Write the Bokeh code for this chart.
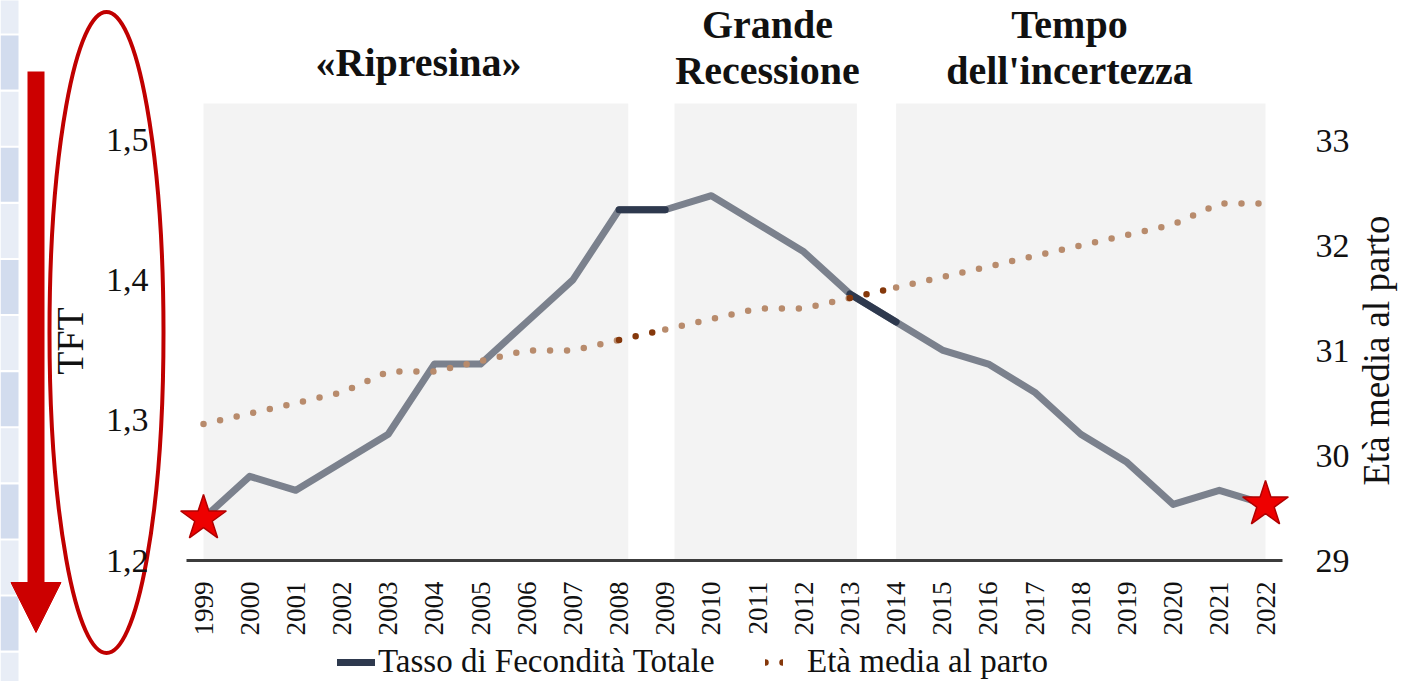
import math
from bokeh.plotting import figure
from bokeh.models import (Range1d, LinearAxis, FixedTicker, Label, Legend, LegendItem,
                          Arrow, NormalHead)
from bokeh.embed import file_html
from bokeh.resources import INLINE

# ---------------- data ----------------
years = list(range(1999, 2023))
tft = [1.23, 1.26, 1.25, 1.27, 1.29, 1.34, 1.34, 1.37, 1.40, 1.45, 1.45, 1.46,
       1.44, 1.42, 1.39, 1.37, 1.35, 1.34, 1.32, 1.29, 1.27, 1.24, 1.25, 1.24]
age = [30.3, 30.4, 30.5, 30.6, 30.8, 30.8, 30.9, 31.0, 31.0, 31.1, 31.2, 31.3,
       31.4, 31.4, 31.5, 31.6, 31.7, 31.8, 31.9, 32.0, 32.1, 32.2, 32.4, 32.4]
highlight_years = [2008, 2013]          # segment year -> year+1 drawn darker
tft_ticks = [1.2, 1.3, 1.4, 1.5]
tft_tick_labels = ["1,2", "1,3", "1,4", "1,5"]
age_ticks = [29, 30, 31, 32, 33]
period_start = [1999.0, 2009.2, 2014.0]
period_end = [2008.2, 2013.15, 2022.0]
period_titles = [["«Ripresina»"], ["Grande", "Recessione"], ["Tempo", "dell'incertezza"]]
series_names = ["Tasso di Fecondità Totale", "Età media al parto"]
y_left_label = "TFT"
y_right_label = "Età media al parto"

# ---------------- geometry helpers (canvas px -> data) ----------------
X0PX, XSTEP = 203.0, 46.174
Y0PX, YSTEP = 560.0, 1403.0
AGE_STEP = 105.0
W, H = 1400, 681


def px2x(px):
    return 1999 + (px - X0PX) / XSTEP


def px2y(py):
    return 1.2 + (Y0PX - py) / YSTEP


FONT = "Liberation Serif"
TXT = "#111111"
GRAY = "#7b818d"
DARK = "#2e394e"
BROWN = "#b88b6c"
DBROWN = "#85380b"

p = figure(width=W, height=H, output_backend="svg", toolbar_location=None,
           x_range=Range1d(px2x(0), px2x(W)),
           y_range=Range1d(px2y(H), px2y(0)),
           x_axis_type=None, y_axis_type=None,
           min_border=0, min_border_left=0, min_border_right=0,
           min_border_top=0, min_border_bottom=0,
           outline_line_color=None, background_fill_color="white",
           border_fill_color="white")
p.extra_y_ranges = {"age": Range1d(29 + (Y0PX - H) / AGE_STEP,
                                   29 + Y0PX / AGE_STEP)}

# left decorative strip
cells_top, cells_bot, cells_col = [], [], []
for j in range(13):
    top = -21 + 56.1 * j
    cells_top.append(px2y(top))
    cells_bot.append(px2y(top + 54))
    cells_col.append("#e8edf6" if j % 2 == 0 else "#d2dcee")
p.quad(left=px2x(0), right=px2x(18), top=cells_top, bottom=cells_bot,
       fill_color=cells_col, line_color=None)

# period bands
p.quad(left=period_start, right=period_end, top=px2y(103), bottom=tft_ticks[0],
       fill_color="#f3f3f3", line_color=None)

# TFT line
p.line(years, tft, line_color=GRAY, line_width=7, line_join="round")
hl_idx = [years.index(y) for y in highlight_years]
r_tft_dark = p.multi_line(xs=[[years[i], years[i + 1]] for i in hl_idx],
                          ys=[[tft[i], tft[i + 1]] for i in hl_idx],
                          line_color=DARK, line_width=7, line_cap="round")

# age dotted line, split so highlighted parts are darker
lxs, lys = [], []
start = 0
for i in hl_idx:
    lxs.append(years[start:i + 1])
    lys.append(age[start:i + 1])
    start = i + 1
lxs.append(years[start:])
lys.append(age[start:])
p.multi_line(xs=lxs, ys=lys, y_range_name="age", line_color=BROWN, line_width=6.5,
             line_dash="0 17", line_cap="round")
r_age_dark = p.multi_line(xs=[[years[i], years[i + 1]] for i in hl_idx],
                          ys=[[age[i], age[i + 1]] for i in hl_idx],
                          y_range_name="age", line_color=DBROWN, line_width=6.5,
                          line_dash="0 17", line_cap="round")

# stars at first and last TFT values
p.scatter(x=[years[0], years[-1]], y=[tft[0], tft[-1]], marker="star", size=48,
          fill_color="#ee0000", line_color="#b00000", line_width=1.5)

# red ellipse around the left axis
p.ellipse(x=px2x(106), y=px2y(332), width=114, height=641,
          width_units="screen", height_units="screen",
          fill_color=None, line_color="#c00000", line_width=4)

# red arrow
p.add_layout(Arrow(end=NormalHead(size=50, fill_color="#cc0000", line_color="#cc0000"),
                   x_start=px2x(35.5), y_start=px2y(71), x_end=px2x(35.5), y_end=px2y(632),
                   line_color="#cc0000", line_width=17))

# ---------------- axes ----------------
xax = LinearAxis(fixed_location=tft_ticks[0], bounds=(px2x(186), px2x(1282)),
                 ticker=FixedTicker(ticks=years),
                 major_label_overrides={y: str(y) for y in years})
xax.axis_line_color = "#3c3c3c"
xax.axis_line_width = 3
xax.major_tick_line_color = None
xax.minor_tick_line_color = None
xax.major_label_orientation = math.pi / 2
xax.major_label_standoff = 15
xax.major_label_text_font = FONT
xax.major_label_text_font_size = "27px"
xax.major_label_text_color = TXT
p.add_layout(xax, "below")

yl = LinearAxis(fixed_location=px2x(186), ticker=FixedTicker(ticks=tft_ticks),
                major_label_overrides=dict(zip(tft_ticks, tft_tick_labels)),
                axis_label=y_left_label)
yl.axis_line_color = None
yl.major_tick_line_color = None
yl.minor_tick_line_color = None
yl.major_label_standoff = 32
yl.major_label_text_font = FONT
yl.major_label_text_font_size = "34px"
yl.major_label_text_color = TXT
yl.axis_label_text_font = FONT
yl.axis_label_text_font_style = "normal"
yl.axis_label_text_font_size = "38px"
yl.axis_label_text_color = TXT
yl.axis_label_standoff = 12
p.add_layout(yl, "left")

yr = LinearAxis(fixed_location=px2x(1282), y_range_name="age",
                ticker=FixedTicker(ticks=age_ticks))
yr.axis_line_color = None
yr.major_tick_line_color = None
yr.minor_tick_line_color = None
yr.major_label_standoff = 27
yr.major_label_text_font = FONT
yr.major_label_text_font_size = "34px"
yr.major_label_text_color = TXT
p.add_layout(yr, "right")

p.add_layout(Label(x=px2x(1376), y=px2y(350), text=y_right_label, angle=math.pi / 2,
                   text_align="center", text_baseline="middle", text_font=FONT,
                   text_font_size="37px", text_color=TXT))

# ---------------- period titles ----------------
title_x = [418, 767, 1069]
for tx, lines in zip(title_x, period_titles):
    base = [62] if len(lines) == 1 else [24, 70]
    for line, b in zip(lines, base):
        p.add_layout(Label(x=px2x(tx), y=px2y(b), text=line, text_align="center",
                           text_baseline="alphabetic", text_font=FONT,
                           text_font_style="bold", text_font_size="40px", text_color=TXT))

# ---------------- legends ----------------
common = dict(orientation="horizontal", padding=0, margin=0, spacing=0,
              border_line_color=None, background_fill_alpha=0,
              label_text_font=FONT, label_text_font_size="33px", label_text_color=TXT,
              glyph_height=20)
leg1 = Legend(items=[LegendItem(label=series_names[0], renderers=[r_tft_dark])],
              location=(337, 1), glyph_width=38, label_standoff=3, **common)
leg2 = Legend(items=[LegendItem(label=series_names[1], renderers=[r_age_dark])],
              location=(765, 1), glyph_width=18, label_standoff=24, **common)
p.add_layout(leg1)
p.add_layout(leg2)

open("out.html", "w").write(file_html(p, INLINE))
